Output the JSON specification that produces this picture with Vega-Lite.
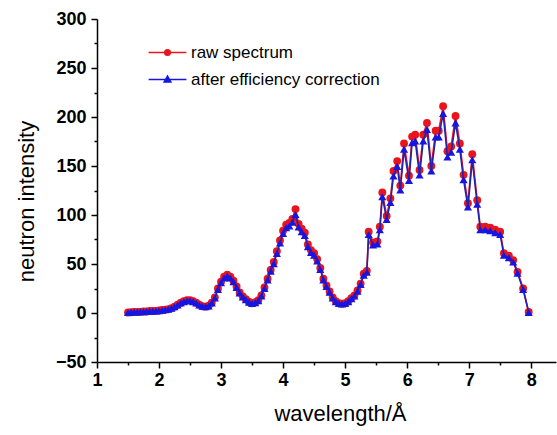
{
  "$schema": "https://vega.github.io/schema/vega-lite/v6.json",
  "width": 459,
  "height": 343,
  "autosize": {"type": "none"},
  "padding": {"left": 97, "top": 19, "right": 1, "bottom": 73},
  "background": "white",
  "config": {"font": "Liberation Sans", "view": {"stroke": null}},
  "data": {"values": [
    {"l":1.50,"raw":0.5,"corr":0.5},{"l":1.55,"raw":0.8,"corr":0.8},{"l":1.60,"raw":1.0,"corr":1.0},{"l":1.65,"raw":1.0,"corr":1.0},
    {"l":1.70,"raw":1.2,"corr":1.2},{"l":1.75,"raw":1.5,"corr":1.4},{"l":1.80,"raw":1.5,"corr":1.5},{"l":1.85,"raw":2.0,"corr":1.9},
    {"l":1.90,"raw":2.0,"corr":2.0},{"l":1.95,"raw":2.2,"corr":2.1},{"l":2.00,"raw":2.5,"corr":2.4},{"l":2.05,"raw":3.0,"corr":2.9},
    {"l":2.10,"raw":3.5,"corr":3.4},{"l":2.15,"raw":4.0,"corr":3.9},{"l":2.20,"raw":5.0,"corr":4.8},{"l":2.25,"raw":6.5,"corr":6.3},
    {"l":2.30,"raw":8.5,"corr":8.2},{"l":2.35,"raw":10.5,"corr":10.1},{"l":2.40,"raw":12.0,"corr":11.6},{"l":2.45,"raw":13.0,"corr":12.5},
    {"l":2.50,"raw":13.0,"corr":12.6},{"l":2.55,"raw":12.0,"corr":11.6},{"l":2.60,"raw":10.5,"corr":10.2},{"l":2.65,"raw":8.5,"corr":8.2},
    {"l":2.70,"raw":7.0,"corr":6.8},{"l":2.75,"raw":6.5,"corr":6.3},{"l":2.80,"raw":7.5,"corr":7.2},{"l":2.85,"raw":10.5,"corr":10.1},
    {"l":2.90,"raw":16,"corr":15.4},{"l":2.95,"raw":25,"corr":24.1},{"l":3.00,"raw":32,"corr":30.9},{"l":3.05,"raw":37,"corr":35.7},
    {"l":3.10,"raw":39,"corr":37.6},{"l":3.15,"raw":37,"corr":35.7},{"l":3.20,"raw":33,"corr":31.8},{"l":3.25,"raw":27,"corr":26.0},
    {"l":3.30,"raw":21,"corr":20.3},{"l":3.35,"raw":17,"corr":16.4},{"l":3.40,"raw":14,"corr":13.5},{"l":3.45,"raw":11.5,"corr":11.1},
    {"l":3.50,"raw":10,"corr":9.7},{"l":3.55,"raw":11,"corr":10.6},{"l":3.60,"raw":13,"corr":12.5},{"l":3.65,"raw":18,"corr":17.4},
    {"l":3.70,"raw":26,"corr":25.1},{"l":3.75,"raw":35,"corr":33.8},{"l":3.80,"raw":44,"corr":42.5},{"l":3.85,"raw":52,"corr":50.2},
    {"l":3.90,"raw":63,"corr":60.8},{"l":3.95,"raw":74,"corr":71.4},{"l":4.00,"raw":84,"corr":81.1},{"l":4.05,"raw":90,"corr":86.9},
    {"l":4.10,"raw":92,"corr":88.8},{"l":4.15,"raw":96,"corr":92.6},{"l":4.20,"raw":106,"corr":100.5},{"l":4.25,"raw":91,"corr":87.8},
    {"l":4.30,"raw":86,"corr":83.0},{"l":4.35,"raw":82,"corr":79.1},{"l":4.40,"raw":70,"corr":67.6},{"l":4.45,"raw":64,"corr":61.8},
    {"l":4.50,"raw":61,"corr":58.9},{"l":4.55,"raw":55,"corr":53.1},{"l":4.60,"raw":46,"corr":44.4},{"l":4.65,"raw":35,"corr":33.8},
    {"l":4.70,"raw":28,"corr":27.0},{"l":4.75,"raw":22,"corr":21.2},{"l":4.80,"raw":16,"corr":15.4},{"l":4.85,"raw":12,"corr":11.6},
    {"l":4.90,"raw":10,"corr":9.7},{"l":4.95,"raw":9.5,"corr":9.2},{"l":5.00,"raw":10,"corr":9.7},{"l":5.05,"raw":12,"corr":11.6},
    {"l":5.10,"raw":15,"corr":14.5},{"l":5.15,"raw":18,"corr":17.4},{"l":5.20,"raw":23,"corr":22.2},{"l":5.25,"raw":30,"corr":29.0},
    {"l":5.30,"raw":40,"corr":38.6},{"l":5.35,"raw":43,"corr":41.5},{"l":5.38,"raw":83,"corr":80.1},{"l":5.45,"raw":72,"corr":69.5},
    {"l":5.52,"raw":73,"corr":70.4},{"l":5.56,"raw":88,"corr":84.9},{"l":5.60,"raw":123,"corr":118.7},{"l":5.67,"raw":99,"corr":95.5},
    {"l":5.73,"raw":117,"corr":112.9},{"l":5.78,"raw":145,"corr":139.9},{"l":5.84,"raw":155,"corr":149.6},{"l":5.89,"raw":130,"corr":125.5},
    {"l":5.95,"raw":173,"corr":167.0},{"l":6.03,"raw":140,"corr":135.1},{"l":6.08,"raw":180,"corr":173.7},{"l":6.13,"raw":182,"corr":175.6},
    {"l":6.20,"raw":146,"corr":140.9},{"l":6.26,"raw":182,"corr":175.6},{"l":6.32,"raw":194,"corr":187.2},{"l":6.39,"raw":150,"corr":144.8},
    {"l":6.46,"raw":186,"corr":179.5},{"l":6.51,"raw":186,"corr":179.5},{"l":6.58,"raw":211,"corr":203.6},{"l":6.65,"raw":165,"corr":159.2},
    {"l":6.71,"raw":170,"corr":164.1},{"l":6.78,"raw":201,"corr":194.0},{"l":6.85,"raw":173,"corr":167.0},{"l":6.91,"raw":141,"corr":136.1},
    {"l":6.98,"raw":112,"corr":108.1},{"l":7.05,"raw":162,"corr":156.3},{"l":7.13,"raw":115,"corr":111.0},{"l":7.18,"raw":88,"corr":84.9},
    {"l":7.26,"raw":88,"corr":84.9},{"l":7.34,"raw":87,"corr":84.0},{"l":7.42,"raw":85,"corr":82.0},{"l":7.50,"raw":83,"corr":80.1},
    {"l":7.56,"raw":61,"corr":58.9},{"l":7.64,"raw":58.5,"corr":56.5},{"l":7.71,"raw":54,"corr":52.1},{"l":7.78,"raw":42,"corr":40.5},
    {"l":7.87,"raw":25,"corr":24.1},{"l":7.96,"raw":1,"corr":0.5}
  ]},
  "transform": [{"fold": ["raw", "corr"], "as": ["series", "I"]}],
  "encoding": {
    "x": {
      "field": "l", "type": "quantitative",
      "scale": {"domain": [1, 8.4], "nice": false, "zero": false},
      "axis": {
        "title": "wavelength/Å",
        "values": [1, 1.5, 2, 2.5, 3, 3.5, 4, 4.5, 5, 5.5, 6, 6.5, 7, 7.5, 8],
        "labelExpr": "datum.value % 1 === 0 ? format(datum.value, 'd') : ''",
        "tickSize": {"condition": {"test": "datum.value % 1 !== 0", "value": 3}, "value": 6},
        "grid": false, "labelFlush": false,
        "domainColor": "black", "domainWidth": 1.5, "tickColor": "black", "tickWidth": 1.5,
        "labelFontSize": 18, "labelFontWeight": "bold", "labelColor": "black", "labelPadding": 3,
        "titleFontSize": 22, "titleFontWeight": "normal", "titleColor": "black", "titlePadding": 14, "titleX": 243
      }
    },
    "y": {
      "field": "I", "type": "quantitative",
      "scale": {"domain": [-50, 300], "nice": false, "zero": false},
      "axis": {
        "title": "neutron intensity",
        "values": [-50, -25, 0, 25, 50, 75, 100, 125, 150, 175, 200, 225, 250, 275, 300],
        "labelExpr": "datum.value % 50 === 0 ? format(datum.value, 'd') : ''",
        "tickSize": {"condition": {"test": "datum.value % 50 !== 0", "value": 3}, "value": 6},
        "grid": false, "labelFlush": false,
        "domainColor": "black", "domainWidth": 1.5, "tickColor": "black", "tickWidth": 1.5,
        "labelFontSize": 18, "labelFontWeight": "bold", "labelColor": "black", "labelPadding": 5,
        "titleFontSize": 22, "titleFontWeight": "normal", "titleColor": "black", "titlePadding": 17, "titleY": 182
      }
    },
    "color": {
      "field": "series", "type": "nominal",
      "scale": {"domain": ["raw", "corr"], "range": ["#e8161c", "#1616e0"]},
      "legend": {
        "orient": "none", "legendX": 62, "legendY": 25, "title": null,
        "labelExpr": "datum.value === 'raw' ? 'raw spectrum' : 'after efficiency correction'",
        "labelFontSize": 17, "labelColor": "black", "labelOffset": 15, "labelLimit": 400,
        "symbolSize": 196, "rowPadding": 9, "padding": 0,
        "encode": {"symbols": {"update": {
          "shape": [{"test": "datum.value === 'raw'", "value": "M-2.7,0L2.7,0M0.4,0A0.4,0.4 0 1,1 -0.4,0A0.4,0.4 0 1,1 0.4,0Z"}, {"value": "M-2.7,0L2.7,0M0,-0.5L0.48,0.35L-0.48,0.35Z"}],
          "fill": [{"test": "datum.value === 'raw'", "value": "#e8161c"}, {"value": "#1616e0"}],
          "stroke": [{"test": "datum.value === 'raw'", "value": "#e8161c"}, {"value": "#1616e0"}],
          "strokeWidth": {"value": 1.5},
          "opacity": {"value": 1}
        }}}
      }
    }
  },
  "layer": [
    {"transform": [{"filter": "datum.series === 'raw'"}], "mark": {"type": "line", "strokeWidth": 1.6}},
    {"transform": [{"filter": "datum.series === 'raw'"}], "mark": {"type": "point", "shape": "circle", "filled": true, "size": 62, "opacity": 1}},
    {"transform": [{"filter": "datum.series === 'corr'"}], "mark": {"type": "line", "strokeWidth": 1.6}, "encoding": {"color": {"value": "#2222b0"}}},
    {"transform": [{"filter": "datum.series === 'corr'"}], "mark": {"type": "point", "shape": "triangle-up", "filled": true, "size": 66, "opacity": 1}}
  ]
}
